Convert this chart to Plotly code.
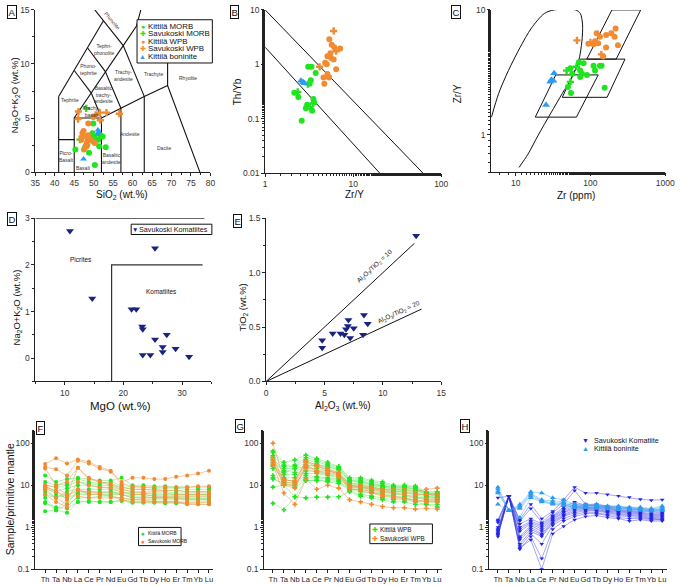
import plotly.graph_objects as go

W, H = 685, 586
FONT = "Liberation Sans, Arial, sans-serif"

# ---------------- DATA ----------------
# Panel A: TAS (SiO2 vs Na2O+K2O)
A_kit_morb_x = [49.9, 49.7, 52.3, 51.2, 48.6, 45.3, 47.8, 51.4, 53.1, 48.8, 50.3, 50.0, 51.7]
A_kit_morb_y = [4.5, 3.6, 3.3, 3.0, 2.9, 2.1, 2.3, 2.4, 2.3, 1.8, 0.65, 3.2, 3.4]
A_sav_morb_x = [48.1, 46.5, 48.2, 50.6]
A_sav_morb_y = [5.9, 3.0, 2.5, 3.1]
A_kit_wpb_x = [49.9, 48.6, 47.4, 47.1, 48.2, 48.2, 49.2, 50.3, 49.9, 48.6, 47.5, 46.8]
A_kit_wpb_y = [5.1, 4.5, 3.8, 3.6, 2.7, 2.4, 3.0, 2.7, 2.8, 3.4, 2.1, 3.0]
A_sav_wpb_x = [46.1, 46.0, 51.6, 51.7, 53.3, 56.6, 47.0, 50.5, 48.0]
A_sav_wpb_y = [5.6, 4.9, 5.5, 4.8, 5.5, 5.4, 3.3, 5.3, 3.2]
A_bon_x = [51.1, 51.3, 51.0, 47.4]
A_bon_y = [3.9, 3.7, 3.5, 1.2]
TAS_x = [41, 41, None, 41, 45, None, 45, 45, 52, None, 52, 52, None, 52, 57, 63, 69, 77.3, None,
         57, 57, None, 63, 63, None, 41, 45, 48.4, 52.5, None,
         45, 49.4, 53, 57.6, 61, 63, None, 49.4, 52, None, 45, 49.4, None,
         48.4, 53, 57, None, 50.3, 52.5, 57.6, 63, None, 69, 69]
TAS_y = [0, 7, None, 3, 3, None, 0, 5, 5, None, 0, 5, None, 5, 5.9, 7, 8, 0, None,
         0, 5.9, None, 0, 7, None, 7, 9.4, 11.5, 14, None,
         5, 7.3, 9.3, 11.7, 13.5, 16.2, None, 7.3, 5, None, 9.4, 7.3, None,
         11.5, 9.3, 5.9, None, 15, 14, 11.7, 7, None, 8, 12]
TAS_names = ["Picro-<br>Basalt", "Basalt", "Basaltic<br>andesite", "Andesite", "Dacite",
             "Trachy-<br>basalt", "Basaltic<br>trachy-<br>andesite", "Trachy-<br>andesite",
             "Trachyte", "Rhyolite", "Tephrite", "Phono-<br>tephrite", "Tephri-<br>phonolite"]
TAS_name_x = [42.9, 47.4, 54.6, 59.4, 68.2, 49.4, 52.4, 57.7, 65.4, 74.3, 43.8, 48.6, 52.8]
TAS_name_y = [1.4, 0.4, 1.3, 3.5, 2.2, 5.6, 7.2, 8.9, 9.1, 8.7, 6.7, 9.5, 11.3]

# Panel B: Th/Yb vs Zr/Y
B_kit_morb_x = [3.08, 3.36, 3.75, 3.3, 3.2, 2.14, 2.38, 3.53, 3.6, 3.0, 2.9, 3.42, 2.6]
B_kit_morb_y = [0.90, 0.90, 0.69, 0.51, 0.44, 0.30, 0.25, 0.23, 0.20, 0.18, 0.155, 0.14, 0.092]
B_sav_morb_x = [2.34, 3.5, 3.2, 3.05]
B_sav_morb_y = [0.31, 0.19, 0.165, 0.43]
B_kit_wpb_x = [5.35, 5.7, 6.1, 7.1, 5.5, 5.1, 5.6, 6.0, 4.8, 5.0, 6.4, 5.1, 4.6, 5.3, 4.7]
B_kit_wpb_y = [2.9, 2.3, 2.06, 1.95, 1.6, 1.4, 1.3, 1.23, 1.07, 1.0, 0.81, 0.66, 0.57, 0.57, 0.44]
B_sav_wpb_x = [6.0, 6.4, 4.15, 5.2]
B_sav_wpb_y = [4.1, 1.74, 0.9, 0.6]
B_bon_x = [2.55, 2.7, 2.8]
B_bon_y = [0.50, 0.47, 0.45]
B_upper_x = [1, 62]
B_upper_y = [10, 0.01]
B_lower_x = [1, 20]
B_lower_y = [2.06, 0.01]

# Panel C: Zr/Y vs Zr
C_kit_morb_x = [54, 70, 81, 73, 77, 90, 73, 110, 134, 141, 115, 50, 55, 155, 57]
C_kit_morb_y = [3.4, 3.8, 3.73, 3.26, 3.07, 3.0, 2.9, 3.56, 3.56, 3.56, 3.26, 2.41, 2.16, 2.38, 3.07]
C_sav_morb_x = [48, 54, 65]
C_sav_morb_y = [3.26, 2.64, 3.5]
C_kit_wpb_x = [94, 110, 115, 127, 121, 134, 162, 190, 217, 210, 233, 162, 148]
C_kit_wpb_y = [5.35, 5.3, 5.6, 5.4, 6.5, 6.1, 6.3, 6.5, 7.1, 6.1, 5.2, 5.0, 4.23]
C_sav_wpb_x = [66, 100, 140]
C_sav_wpb_y = [5.7, 5.5, 4.4]
C_bon_x = [32.7, 30, 29, 32, 25.5]
C_bon_y = [3.1, 2.75, 2.65, 2.7, 1.73]
C_wpb_field_x = [194, 470, 221, 89.5, 194]
C_wpb_field_y = [10, 10, 4.03, 4.03, 10]
C_morb_field_x = [73.3, 290, 167, 42, 73.3]
C_morb_field_y = [4.03, 4.03, 1.99, 1.99, 4.03]
C_iat_field_x = [34.4, 127, 65, 18.3, 34.4]
C_iat_field_y = [3.01, 3.01, 1.38, 1.38, 3.01]
C_bon_field_x = [4.75, 5.93, 8.0, 11.4, 16.2, 24.2, 32.7, 63, 73.3, 78.5, 76.9, 69.7, 56.9, 42.1, 29.6, 19.8, 14.7, 11.1]
C_bon_field_y = [1.38, 2.14, 3.26, 4.97, 7.13, 9.36, 10, 10, 9.36, 7.58, 5.61, 3.91, 2.89, 2.14, 1.49, 0.977, 0.70, 0.545]

# Panel D: Na2O+K2O vs MgO (Savukoski komatiites)
D_mgo = [10.9, 25.4, 14.7, 21.4, 22.2, 23.2, 23.3, 25.4, 27.4, 26.7, 26.7, 28.9, 24.6, 23.3, 31.2]
D_alk = [2.73, 2.36, 1.28, 1.05, 1.05, 0.68, 0.62, 0.40, 0.50, 0.24, 0.13, 0.20, 0.07, 0.07, 0.03]
D_line1_x = [5, 33.8]
D_line1_y = [3, 3]
D_line2_x = [18, 18, 33.5]
D_line2_y = [-0.5, 2, 2]

# Panel E: TiO2 vs Al2O3
E_al = [12.85, 4.8, 4.8, 5.7, 6.37, 6.7, 6.84, 7.0, 7.05, 7.2, 7.5, 8.38, 8.3, 8.7]
E_ti = [1.34, 0.38, 0.31, 0.44, 0.44, 0.43, 0.48, 0.51, 0.565, 0.40, 0.49, 0.61, 0.43, 0.53]
E_r10_x = [0, 12.7]
E_r10_y = [0, 1.27]
E_r20_x = [0, 13.3]
E_r20_y = [0, 0.665]

# Spidergrams (normalised to primitive mantle)
elements = ["Th", "Ta", "Nb", "La", "Ce", "Pr", "Nd", "Eu", "Gd", "Tb", "Dy", "Ho", "Er", "Tm", "Yb", "Lu"]
F_kit_morb = [
    [17, 12, 14, 15, 14, 13, 13, 15, 10, 10, 9.5, 9.5, 9, 9, 9, 9],
    [12, 10, 11, 14, 12, 11, 12, 10, 9, 9, 8.5, 8.5, 8.5, 8, 8, 8],
    [10, 9, 10, 12, 11, 10, 10, 9, 8, 8, 8, 7.5, 7.5, 7, 7, 7],
    [8, 7, 8.5, 10, 10, 9, 9, 8, 7, 7, 7, 7, 6.5, 6.5, 6.5, 6.5],
    [7, 5, 7, 8, 8, 8, 8, 7, 6.5, 6.5, 6, 6, 6, 6, 6, 6],
    [6, 5, 6, 7, 7, 7, 7, 6.5, 6, 6, 5.5, 5.5, 5.5, 5.5, 5.5, 5.5],
    [5, 2.6, 4.5, 6, 6, 6, 6, 6, 5, 5, 5, 5, 5, 5, 5, 5],
    [4, 2.5, 3.5, 5, 5, 5.5, 5.5, 5, 4.5, 4.5, 4.5, 4.5, 4.5, 4.5, 4.5, 4.5],
    [3.7, 3, 2.8, 4, 4.2, 4, 4, 4.5, 4, 4, 4, 4, 4, 4, 4, 4],
    [2.4, 2.6, 2.2, 4, 4, 4, 4, 4.2, 3.8, 3.8, 3.8, 3.7, 3.7, 3.6, 3.5, 3.5],
    [9, 6, 5, 6.5, 6.5, 6.5, 7, 6, 5.5, 5.5, 5, 5, 5, 5, 4.8, 4.8],
]
F_sav_morb = [
    [32, 44, 33, 41, 36, 27, 22, 12, 15, 15, 14, 14, 16, 17, 19, 22],
    [27, 24, 17, 38, 33, 25, 21, 11, 9.5, 9, 9, 9, 9, 9, 9.5, 9.5],
    [25, 10, 12, 26, 15, 12, 11, 9, 8, 8, 7.5, 7.5, 7.5, 7, 7, 7],
    [10, 9, 6, 26, 14, 12, 10, 8, 7, 6.5, 6.5, 6.5, 6, 6, 6, 6],
    [9, 7.5, 4.5, 12, 10, 9, 8.5, 7, 6, 6, 5.5, 5.5, 5.5, 5.5, 5.5, 5.5],
    [8, 5, 3.5, 7.5, 7, 6.5, 6.5, 6, 5, 5, 5, 5, 5, 4.5, 4.5, 4.5],
    [6, 4, 3, 5.5, 5, 5, 5, 5, 4.5, 4.5, 4, 4, 4, 3.5, 3.5, 3.5],
    [9.5, 7, 5.5, 8, 6, 6, 5.5, 4.5, 4, 4, 4, 4, 4, 3.8, 3.8, 4],
]
G_kit_wpb = [
    [65, 35, 40, 52, 43, 35, 28, 15, 15, 13, 12, 10, 10, 9.5, 7, 7],
    [60, 30, 30, 45, 40, 32, 27, 14, 14, 12, 11, 9.5, 9.5, 9, 6.5, 6.5],
    [50, 28, 28, 40, 36, 30, 25, 13, 13, 11, 10, 9, 9, 8.5, 6.5, 6],
    [45, 20, 25, 28, 30, 28, 24, 13, 12, 10.5, 9.5, 9, 9, 8, 6.5, 6.5],
    [40, 25, 25, 35, 32, 27, 23, 12, 12, 10, 9.5, 8.5, 8.5, 8, 6, 6],
    [35, 22, 20, 30, 28, 24, 20, 11, 11, 9.5, 9, 8, 8, 7.5, 6, 5.5],
    [30, 18, 18, 26, 25, 22, 19, 11, 10, 9, 8.5, 7.5, 7.5, 7, 5.5, 5.5],
    [28, 15, 15, 22, 21, 19, 17, 10, 9.5, 8.5, 8, 7, 7, 6.5, 5.5, 5],
    [25, 14, 12, 19, 19, 17, 15, 9.5, 9, 8, 7.5, 6.5, 6.5, 6, 5, 5],
    [17, 12, 11, 17, 16, 15, 14, 9, 8.5, 7.5, 7, 6, 6, 5.5, 4.5, 4.5],
    [15, 10, 10, 15, 15, 14, 13, 8, 8, 7, 6.5, 5.5, 5.5, 5, 4.5, 4.5],
    [14, 11, 9, 13, 13, 13, 12, 8, 7, 6.5, 6, 5, 5, 4.5, 4, 4],
    [9, 10, 5.3, 13, 13, 12, 11, 7.5, 6, 5.5, 5, 4.5, 4.5, 4, 3.5, 3.5],
    [3.7, 2.6, 5.3, 5, 5.2, 5.2, 5.3, 7, 5.5, 5, 4.5, 4, 4, 3.5, 3.5, 3],
]
G_sav_wpb = [
    [100, 14, 12, 38, 30, 25, 20, 10, 10, 9, 8, 8, 8, 7, 8, 8.5],
    [45, 13, 13, 35, 28, 23, 18, 10, 9, 8.5, 7.5, 7, 7, 6, 6, 6],
    [40, 12, 11, 30, 22, 22, 19, 9, 9, 8, 7, 6.5, 6, 5, 5, 5],
    [35, 10, 8.5, 28, 22, 20, 18, 8, 8, 7, 6, 5.5, 5, 4.3, 4.2, 4.2],
    [32, 11, 10, 25, 20, 18, 16, 8.5, 7.5, 6.5, 5.5, 5, 4.8, 4.2, 4, 4],
    [30, 6.5, 3.5, 14, 8, 10, 8.5, 4.5, 4, 3.5, 3.1, 2.9, 2.9, 2.7, 2.8, 2.7],
]
H_sav_kom = [
    [5, 5.5, 1.5, 3.5, 1.6, 2.4, 4.5, 9, 6.5, 6.5, 6, 5.5, 5.2, 4.6, 4.4, 4.5],
    [1.5, 5.5, 1.4, 2.8, 1.3, 2.2, 3.5, 7.5, 3.5, 3.5, 3.2, 3.0, 2.9, 2.8, 2.6, 2.6],
    [1.4, 5.5, 1.2, 1.6, 1.2, 1.9, 3.0, 4, 3.3, 3.3, 3.0, 2.8, 2.7, 2.6, 2.4, 2.4],
    [1.3, 5.5, 1.0, 1.4, 1.1, 1.8, 2.7, 3.5, 3.2, 3.2, 2.9, 2.6, 2.5, 2.4, 2.3, 2.2],
    [1.0, 5.5, 0.9, 1.3, 1.0, 1.7, 2.5, 3.2, 3.0, 3.0, 2.8, 2.5, 2.4, 2.3, 2.1, 2.1],
    [0.9, 5.5, 0.8, 1.2, 0.9, 1.6, 2.3, 3.0, 2.9, 2.9, 2.6, 2.4, 2.3, 2.2, 2.0, 2.0],
    [0.85, 5.5, 0.6, 1.1, 0.8, 1.5, 2.2, 2.8, 2.8, 2.8, 2.5, 2.3, 2.2, 2.1, 1.9, 1.9],
    [0.8, 5.5, 0.55, 1.0, 0.7, 1.4, 2.0, 2.6, 2.7, 2.6, 2.4, 2.2, 2.1, 2.0, 1.8, 1.8],
    [0.75, 5.5, 0.5, 0.9, 0.65, 1.3, 1.9, 2.4, 2.6, 2.5, 2.3, 2.1, 2.0, 1.9, 1.7, 1.7],
    [0.7, 5.5, 0.4, 0.8, 0.6, 1.2, 1.8, 2.2, 2.5, 2.4, 2.2, 2.0, 1.9, 1.8, 1.6, 1.6],
    [0.65, 5.5, 0.35, 0.7, 0.4, 1.1, 1.6, 2.0, 2.3, 2.2, 2.0, 1.9, 1.8, 1.7, 1.6, 1.5],
    [0.6, 5.5, 0.3, 0.6, 0.18, 0.9, 1.4, 1.8, 2.1, 2.1, 1.9, 1.7, 1.6, 1.6, 1.5, 1.5],
    [0.7, 5.5, 0.32, 0.5, 0.1, 0.7, 1.05, 1.5, 1.8, 1.9, 1.7, 1.6, 1.4, 1.5, 1.4, 1.4],
]
H_kit_bon = [
    [9, 2.5, 3.5, 7, 6.5, 5, 4.5, 3.5, 3.5, 3.5, 3.2, 3.2, 3.0, 3.0, 2.8, 3.2],
    [8, 2.5, 3.2, 6.5, 4.5, 4.2, 4.0, 3.3, 3.3, 3.3, 3.1, 3.0, 2.9, 2.8, 2.7, 3.0],
    [7, 2.5, 3.0, 6, 4.3, 3.8, 3.7, 3.1, 3.2, 3.2, 3.0, 2.9, 2.8, 2.7, 2.6, 2.8],
    [6.5, 2.5, 2.8, 5.5, 4.2, 3.6, 3.5, 3.0, 3.0, 3.0, 2.9, 2.8, 2.7, 2.6, 2.5, 2.6],
    [3.5, 2.5, 1.7, 5, 4.0, 3.5, 3.3, 2.9, 2.9, 2.8, 2.7, 2.6, 2.5, 2.5, 2.4, 2.5],
]

# ---------------- STYLE ----------------
GREEN = "#1fe41f"
ORANGE = "#f28a30"
BON = "#2b9cf0"
NAVY = "#18247f"
KOM = "#2424e6"

fig = go.Figure()

def hd(p):
    return [p[0] / W, p[1] / W]

def vd(p):
    return [1 - p[1] / H, 1 - p[0] / H]

def axis(dom, rng, typ="linear", **kw):
    d = dict(domain=dom, range=rng, type=typ, showline=True, linecolor="#222", linewidth=1,
             ticks="outside", ticklen=3, tickwidth=1, tickcolor="#222", showgrid=False,
             zeroline=False, tickfont=dict(size=8.5, color="#333", family=FONT), fixedrange=True)
    d.update(kw)
    return d

minor_lin = lambda dt: dict(ticks="outside", ticklen=2, tickcolor="#222", dtick=dt, showgrid=False)
minor_log = dict(ticks="outside", ticklen=2, tickcolor="#222", showgrid=False)

lay = {}
lay["xaxis"] = axis(hd((31, 210)), [35, 80], anchor="y", dtick=5, minor=minor_lin(2.5))
lay["yaxis"] = axis(vd((5, 170)), [0, 15], anchor="x", dtick=5, minor=minor_lin(2.5))
lay["xaxis2"] = axis(hd((266, 446)), [0, 2], "log", anchor="y2", tickvals=[1, 10, 100], ticktext=["1", "10", "100"], minor=minor_log)
lay["yaxis2"] = axis(vd((5, 171)), [-2, 1], "log", anchor="x2", tickvals=[0.01, 0.1, 1, 10], ticktext=["0.01", "0.1", "1", "10"], minor=minor_log)
lay["xaxis3"] = axis(hd((497, 675)), [0.672, 3], "log", anchor="y3", tickvals=[10, 100, 1000], ticktext=["10", "100", "1000"], minor=minor_log)
lay["yaxis3"] = axis(vd((5, 170)), [-0.301, 1.0], "log", anchor="x3", tickvals=[1, 10], ticktext=["1", "10"], minor=minor_log)
lay["xaxis4"] = axis(hd((31, 211)), [5, 35], anchor="y4", tickvals=[10, 20, 30], minor=minor_lin(5))
lay["yaxis4"] = axis(vd((217, 383)), [-0.5, 3.0], anchor="x4", tickvals=[0, 1, 2, 3], minor=minor_lin(0.5))
lay["xaxis5"] = axis(hd((267, 446)), [0, 15], anchor="y5", dtick=5, minor=minor_lin(2.5))
lay["yaxis5"] = axis(vd((217, 383)), [0, 1.5], anchor="x5", dtick=0.5, tickformat=".1f", minor=minor_lin(0.25))
for i, (xd, rng) in zip([6, 7, 8], [((31, 213), [-0.9, 15.4]), ((265, 447), [-0.8, 15.45]), ((495, 677), [-0.8, 15.45])]):
    lay[f"xaxis{i}"] = axis(hd(xd), rng, anchor=f"y{i}", tickvals=list(range(16)), ticktext=elements, tickangle=0,
                            tickfont=dict(size=7.6, color="#222", family=FONT))
    lay[f"yaxis{i}"] = axis(vd((433, 574)), [-1, 2.3], "log", anchor=f"x{i}", tickvals=[0.1, 1, 10, 100],
                            ticktext=["0.1", "1", "10", "100"], minor=minor_log)

def pts(x, y, ax, sym, col, size=6):
    fig.add_trace(go.Scatter(x=x, y=y, mode="markers", xaxis="x" + ax, yaxis="y" + ax, showlegend=False,
                             marker=dict(symbol=sym, color=col, size=size, line=dict(width=0)),
                             hoverinfo="skip"))

def bline(x, y, ax, w=1.0, col="#111"):
    fig.add_trace(go.Scatter(x=x, y=y, mode="lines", xaxis="x" + ax, yaxis="y" + ax, showlegend=False,
                             line=dict(color=col, width=w), hoverinfo="skip", connectgaps=False))

# ---- A
bline(TAS_x, TAS_y, "", 1.1)
pts(A_kit_morb_x, A_kit_morb_y, "", "circle", GREEN)
pts(A_sav_morb_x, A_sav_morb_y, "", "cross", GREEN)
pts(A_kit_wpb_x, A_kit_wpb_y, "", "circle", ORANGE)
pts(A_sav_wpb_x, A_sav_wpb_y, "", "cross", ORANGE)
pts(A_bon_x, A_bon_y, "", "triangle-up", BON)
# ---- B
bline(B_upper_x, B_upper_y, "2")
bline(B_lower_x, B_lower_y, "2")
pts(B_kit_morb_x, B_kit_morb_y, "2", "circle", GREEN)
pts(B_sav_morb_x, B_sav_morb_y, "2", "cross", GREEN)
pts(B_kit_wpb_x, B_kit_wpb_y, "2", "circle", ORANGE)
pts(B_sav_wpb_x, B_sav_wpb_y, "2", "cross", ORANGE)
pts(B_bon_x, B_bon_y, "2", "triangle-up", BON, 7)
# ---- C
fig.add_trace(go.Scatter(x=C_bon_field_x, y=C_bon_field_y, mode="lines", xaxis="x3", yaxis="y3", showlegend=False,
                         line=dict(color="#111", width=1, shape="spline", smoothing=0.8), hoverinfo="skip"))
bline(C_wpb_field_x, C_wpb_field_y, "3")
bline(C_morb_field_x, C_morb_field_y, "3")
bline(C_iat_field_x, C_iat_field_y, "3")
pts(C_kit_wpb_x, C_kit_wpb_y, "3", "circle", ORANGE)
pts(C_sav_wpb_x, C_sav_wpb_y, "3", "cross", ORANGE)
pts(C_kit_morb_x, C_kit_morb_y, "3", "circle", GREEN)
pts(C_sav_morb_x, C_sav_morb_y, "3", "cross", GREEN)
pts(C_bon_x, C_bon_y, "3", "triangle-up", BON, 7)
# ---- D
bline(D_line1_x, D_line1_y, "4", 1.2, "#333")
bline(D_line2_x, D_line2_y, "4", 1.2, "#333")
pts(D_mgo, D_alk, "4", "triangle-down", NAVY, 7)
# ---- E
bline(E_r10_x, E_r10_y, "5")
bline(E_r20_x, E_r20_y, "5")
pts(E_al, E_ti, "5", "triangle-down", NAVY, 7)

# ---- spidergrams
xs = list(range(16))
def spider(rows, ax, sym, mcol, lcol, size=4):
    for r in rows:
        fig.add_trace(go.Scatter(x=xs, y=r, mode="lines+markers", xaxis="x" + ax, yaxis="y" + ax, showlegend=False,
                                 line=dict(color=lcol, width=0.7), marker=dict(symbol=sym, color=mcol, size=size),
                                 hoverinfo="skip"))
spider(F_kit_morb, "6", "circle", GREEN, "rgba(60,220,60,0.55)")
spider(F_sav_morb, "6", "circle", ORANGE, "rgba(240,140,60,0.7)")
spider(G_kit_wpb, "7", "cross", GREEN, "rgba(60,220,60,0.55)")
spider(G_sav_wpb, "7", "cross", ORANGE, "rgba(240,140,60,0.7)")
spider(H_sav_kom, "8", "triangle-down", KOM, "rgba(40,40,220,0.6)")
spider(H_kit_bon, "8", "triangle-up", BON, "rgba(50,160,240,0.6)", 5)

# ---- annotations
ann = []
def txt(x, y, t, size=9, ref="", angle=0, color="#111", xanchor="center", yanchor="middle"):
    ann.append(dict(x=x, y=y, xref="x" + ref, yref="y" + ref, text=t, showarrow=False, textangle=angle,
                    font=dict(size=size, color=color, family=FONT), xanchor=xanchor, yanchor=yanchor))

def ptxt(px, py, t, size=10, angle=0, color="#111", xanchor="center", yanchor="middle", **kw):
    a = dict(x=px / W, y=1 - py / H, xref="paper", yref="paper", text=t, showarrow=False, textangle=angle,
             font=dict(size=size, color=color, family=FONT), xanchor=xanchor, yanchor=yanchor)
    a.update(kw)
    ann.append(a)

for n, x, y in zip(TAS_names, TAS_name_x, TAS_name_y):
    txt(x, y, n, 5, "", color="#333")
txt(54.9, 14.0, "Phonolite", 5, "", angle=50, color="#333")

txt(21.4, 0.56, "Calc-alkaline", 8.5, "2")
txt(9.3, 0.10, "Transitional", 8, "2", angle=46)
txt(3.36, 0.043, "Tholeiitic", 8, "2")

txt(265, 9.0, "WPB", 8, "3")
txt(225, 3.3, "MORB", 5, "3")
txt(48, 1.6, "IAT", 8.5, "3")
txt(9.8, 1.73, "Bon", 8, "3")

txt(12.7, 2.12, "Picrites", 6.5, "4")
txt(26.5, 1.42, "Komatiites", 6.5, "4")

txt(9.3, 1.06, "Al<sub>2</sub>O<sub>3</sub>/TiO<sub>2</sub> = 10", 6.5, "5", angle=-43)
txt(11.4, 0.64, "Al<sub>2</sub>O<sub>3</sub>/TiO<sub>2</sub> = 20", 6.5, "5", angle=-25)

# axis titles
ptxt(11, 92, "Na<sub>2</sub>O+K<sub>2</sub>O (wt.%)", 9.5, angle=-90)
ptxt(120, 193, "SiO<sub>2</sub> (wt.%)", 10)
ptxt(238, 88, "Th/Yb", 10, angle=-90)
ptxt(357, 193, "Zr/Y", 10)
ptxt(463, 90, "Zr/Y", 10, angle=-90)
ptxt(584, 194, "Zr (ppm)", 10)
ptxt(12, 308, "Na<sub>2</sub>O+K<sub>2</sub>O (wt.%)", 9.5, angle=-90)
ptxt(118, 408, "MgO (wt.%)", 11.5)
ptxt(243, 308, "TiO<sub>2</sub> (wt.%)", 9.5, angle=-90)
ptxt(346, 408, "Al<sub>2</sub>O<sub>3</sub> (wt.%)", 10)
ptxt(6, 503, "Sample/primitive mantle", 10.5, angle=-90)

# panel letters
for L, px, py in [("A", 7, 7), ("B", 235, 7), ("C", 461, 7), ("D", 7, 218), ("E", 238, 220),
                  ("F", 36, 430), ("G", 240, 428), ("H", 470, 428)]:
    ptxt(px, py, L, 9.5, bordercolor="#111", borderwidth=1, borderpad=0.5, bgcolor="white")

# ---- legends (box shape + glyph + text annotations)
shapes = []
def legend_box(x0, y0, x1, y1, border=True):
    shapes.append(dict(type="rect", xref="paper", yref="paper", x0=x0 / W, x1=x1 / W, y0=1 - y1 / H, y1=1 - y0 / H,
                       line=dict(color="#111" if border else "rgba(0,0,0,0)", width=1), fillcolor="white", layer="above"))

GLYPH = {"circle": "●", "cross": "✚", "triangle-up": "▲", "triangle-down": "▼"}

def legend_items(mx, tx, ys, labels, syms, cols, fsize, gsize):
    for y, lab, s, c in zip(ys, labels, syms, cols):
        ptxt(mx, y, GLYPH[s], gsize, color=c, borderpad=0)
        ptxt(tx, y, lab, fsize, xanchor="left", borderpad=0)

legend_box(135, 15, 212, 59)
legend_items(140.7, 145.5, [21.7, 29.3, 36.9, 44.5, 52.3],
             ["Kittilä MORB", "Savukoski MORB", "Kittilä WPB", "Savukoski WPB", "Kittilä boninite"],
             ["circle", "cross", "circle", "cross", "triangle-up"], [GREEN, GREEN, ORANGE, ORANGE, BON], 7.9, 7)
legend_box(129, 223, 211.5, 233.5)
legend_items(132.8, 135.5, [228.3], ["Savukoski Komatiites"], ["triangle-down"], [NAVY], 7.2, 6.5)
legend_box(136.5, 531.5, 180, 550)
legend_items(141.5, 145.5, [537.3, 545.5], ["Kittilä MORB", "Savukoski MORB"], ["circle", "circle"], [GREEN, ORANGE], 5, 6.5)
legend_box(373, 528, 437, 548)
legend_items(378, 382.5, [533.3, 542.7], ["Kittilä WPB", "Savukoski WPB"], ["cross", "cross"], [GREEN, ORANGE], 6.3, 7)
legend_items(594, 601, [443.3, 450.7], ["Savukoski Komatiite", "Kittilä boninite"], ["triangle-down", "triangle-up"], [KOM, BON], 7.2, 7)

fig.update_layout(width=W, height=H, margin=dict(l=0, r=0, t=0, b=0), paper_bgcolor="white",
                  plot_bgcolor="rgba(0,0,0,0)", showlegend=False, annotations=ann, shapes=shapes,
                  font=dict(family=FONT), **lay)

fig.write_html("out.html", include_plotlyjs=True, config={"displayModeBar": False, "staticPlot": True},
               post_script="document.body.style.margin='0px';document.body.style.overflow='hidden';")
